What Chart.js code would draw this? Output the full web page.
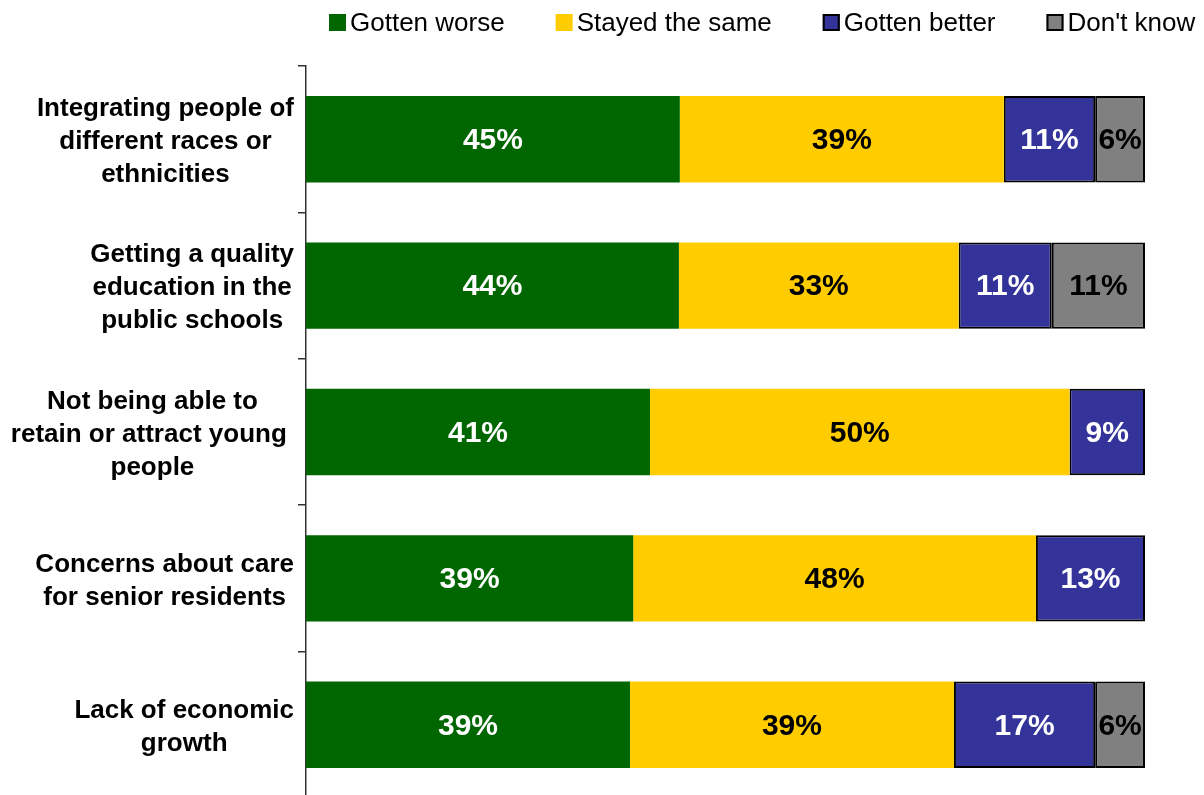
<!DOCTYPE html>
<html>
<head>
<meta charset="utf-8">
<script src="https://cdn.jsdelivr.net/npm/chart.js@4/dist/chart.umd.min.js"></script>
<style>
  html, body { margin: 0; padding: 0; background: #fff; overflow: hidden; }
  #wrap { width: 1204px; height: 800px; }
</style>
</head>
<body>
<div id="wrap"><canvas id="chartIssues"></canvas></div>
<script>
// categorias (cada linha do rotulo e uma entrada) e percentuais por resposta
const categories = [
  ['Integrating people of', 'different races or', 'ethnicities'],
  ['Getting a quality', 'education in the', 'public schools'],
  ['Not being able to', 'retain or attract young ', 'people'],
  ['Concerns about care', 'for senior residents'],
  ['Lack of economic', 'growth'],
];
const gottenWorse = [45, 44, 41, 39, 39];
const stayedSame = [39, 33, 50, 48, 39];
const gottenBetter = [11, 11, 9, 13, 17];
const dontKnow = [6, 11, null, null, 6];

const seriesNames = ['Gotten worse', 'Stayed the same', 'Gotten better', "Don't know"];
const seriesValues = [gottenWorse, stayedSame, gottenBetter, dontKnow];
const seriesColors = ['#006600', '#ffcc00', '#333399', '#808080'];
const seriesText = ['#ffffff', '#000000', '#ffffff', '#000000'];
const seriesBorder = [0, 0, 2, 2];

// barra 100% empilhada: cada linha e escalada pelo proprio total
const rowTotals = categories.map((_, i) => seriesValues.reduce((s, arr) => s + (arr[i] || 0), 0));
const share = (arr) => arr.map((v, i) => (v == null ? null : (v / rowTotals[i]) * 100));

const FONT = '"Liberation Sans", Arial, sans-serif';

const legendPlugin = {
  id: 'topLegend',
  afterDraw(chart) {
    const { ctx } = chart;
    ctx.save();
    ctx.font = `400 26px ${FONT}`;
    ctx.textBaseline = 'middle';
    ctx.textAlign = 'left';
    let x = 329;
    const y = 23.5;
    seriesNames.forEach((name, i) => {
      ctx.fillStyle = seriesColors[i];
      ctx.fillRect(x, 14, 17, 17);
      if (seriesBorder[i]) {
        ctx.strokeStyle = '#000';
        ctx.lineWidth = 2;
        ctx.strokeRect(x + 1, 15, 15, 15);
      }
      ctx.fillStyle = '#000';
      ctx.fillText(name, x + 21, y);
      x += 21 + ctx.measureText(name).width + 51;
    });
    ctx.restore();
  },
};

const labelsPlugin = {
  id: 'barLabels',
  afterDatasetsDraw(chart) {
    const { ctx } = chart;
    ctx.save();
    ctx.textBaseline = 'middle';
    ctx.textAlign = 'center';
    ctx.font = `700 30px ${FONT}`;
    chart.data.datasets.forEach((ds, di) => {
      const meta = chart.getDatasetMeta(di);
      meta.data.forEach((bar, i) => {
        const raw = seriesValues[di][i];
        if (raw == null) return;
        const { x, base, y } = bar.getProps(['x', 'base', 'y'], true);
        ctx.fillStyle = seriesText[di];
        ctx.fillText(raw + '%', (x + base) / 2, y + 1.5);
      });
    });
    // rotulos das categorias: bloco alinhado a direita, linhas centralizadas
    const yScale = chart.scales.y;
    ctx.font = `700 26px ${FONT}`;
    ctx.fillStyle = '#000';
    categories.forEach((lines, i) => {
      const cy = yScale.getPixelForValue(i) + 2.5;
      const w = Math.max(...lines.map((l) => ctx.measureText(l).width));
      const cx = 294 - w / 2;
      const lh = 33;
      lines.forEach((line, k) => {
        const lw = ctx.measureText(line).width;
        ctx.textAlign = 'left';
        ctx.fillText(line, cx - lw / 2, cy + (k - (lines.length - 1) / 2) * lh);
      });
    });
    ctx.restore();
  },
};

new Chart(document.getElementById('chartIssues'), {
  type: 'bar',
  data: {
    labels: categories.map((l) => l.join(' ').replace(/\s+/g, ' ').trim()),
    datasets: seriesNames.map((name, i) => ({
      label: name,
      data: share(seriesValues[i]),
      backgroundColor: seriesColors[i],
      borderColor: '#000000',
      borderWidth: seriesBorder[i],
      borderSkipped: false,
      barPercentage: 0.59,
      categoryPercentage: 1,
    })),
  },
  options: {
    indexAxis: 'y',
    responsive: true,
    maintainAspectRatio: false,
    animation: false,
    layout: { padding: { left: 298, right: 59, top: 66, bottom: 2 } },
    plugins: { legend: { display: false }, tooltip: { enabled: false } },
    scales: {
      x: { stacked: true, min: 0, max: 100, display: false },
      y: {
        stacked: true,
        ticks: { display: false },
        grid: { drawOnChartArea: false, drawTicks: true, tickLength: 8, color: '#333333', lineWidth: 1.5, offset: true },
        border: { display: true, color: '#333333', width: 1.5 },
      },
    },
  },
  plugins: [labelsPlugin, legendPlugin],
});
</script>
</body>
</html>
